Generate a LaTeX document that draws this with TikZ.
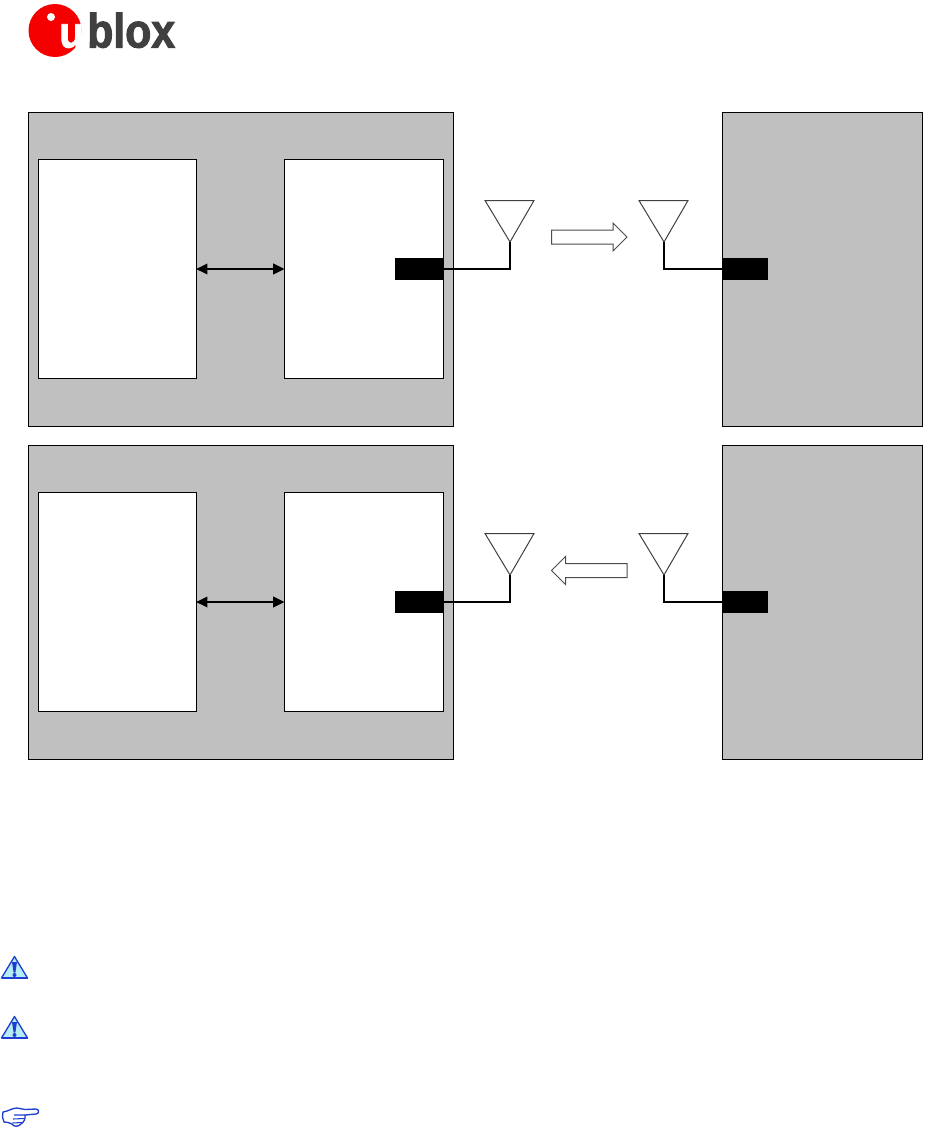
\documentclass[tikz,border=0pt]{standalone}
\usepackage{fontspec}
\setmainfont{Liberation Sans}
\newfontfamily\logofont[FakeBold=2.2]{Liberation Sans Bold}
\usetikzlibrary{arrows.meta,shapes.arrows,shapes.geometric}
\definecolor{panelgray}{HTML}{C0C0C0}
\definecolor{logored}{HTML}{F40000}
\definecolor{logodark}{HTML}{404040}
\definecolor{iconblue}{HTML}{1C3FD0}
\definecolor{iconfill}{HTML}{B8ECF4}
\tikzset{
  x=0.75pt,y=-0.75pt,
  box/.style={draw=black,line width=0.75pt,anchor=north west,inner sep=0pt,outer sep=0pt},
  panel/.style={box,fill=panelgray},
  inner/.style={box,fill=white,minimum width=119pt,minimum height=164.25pt},
  innerwide/.style={box,fill=white,minimum width=119.6pt,minimum height=164.25pt},
  port/.style={anchor=north west,fill=black,inner sep=0pt,outer sep=0pt,minimum height=16.5pt},
  feedline/.style={draw=black,line width=1.4pt},
  feedthin/.style={draw=black,line width=1.1pt},
  bus/.style={draw=black,line width=1.2pt,{Triangle[length=8.5pt,width=8pt]}-{Triangle[length=8.5pt,width=8pt]},shorten <=-0.4pt,shorten >=-0.4pt},
  aerial/.style={draw=black!75,line width=0.75pt,fill=white,line join=miter},
  flow/.style={draw=black!70,line width=0.75pt,fill=white,line join=miter},
  warn/.style={draw=iconblue,line width=1pt,fill=iconfill,line join=round},
}
\newcommand{\diagramrow}[2]{%
  % #1 = row prefix, #2 = vertical offset
  \node[panel,minimum width=318.75pt,minimum height=235.5pt] (#1left) at (28,112+#2) {};
  \node[inner] (#1host) at (38,159+#2) {};
  \node[innerwide] (#1module) at (284,159+#2) {};
  \node[port,minimum width=36pt] (#1porta) at (395,258+#2) {};
  \node[panel,minimum width=150pt,minimum height=235.5pt] (#1right) at (722,112+#2) {};
  \node[port,minimum width=34.5pt] (#1portb) at (722,258+#2) {};
  \draw[bus] (#1host.east |- 0,269+#2) -- (#1module.west |- 0,269+#2);
  \draw[aerial] (485,200.5+#2) -- (534,200.5+#2) -- (510,242+#2) -- cycle;
  \draw[aerial] (639,200.5+#2) -- (688,200.5+#2) -- (664,242+#2) -- cycle;
  \coordinate (#1tipa) at (510,242+#2);
  \coordinate (#1tipb) at (664,242+#2);
  \draw[feedline] (#1porta.east) -| (#1tipa);
  \draw[feedthin] (#1portb.west) -| (#1tipb);
}
\begin{document}
\begin{tikzpicture}
\useasboundingbox (0,0) rectangle (944,1128);

% logo
\fill[logored] (55,30.5) circle[radius=26.5];
\fill[white] (51,17) circle[radius=4];
\node[font=\logofont\fontsize{33}{33}\selectfont,text=white,inner sep=0pt,anchor=base west,xscale=0.92] (logou) at (59,47.5) {u};
\node[font=\logofont\fontsize{36}{36}\selectfont,text=logodark,inner sep=0pt,anchor=base west,xscale=0.89] (logotext) at (87,47.5) {blox};

\diagramrow{a}{0}
\diagramrow{b}{333}

% signal direction arrows
\draw[flow] (551.5,230) -- (613,230) -- (613,223) -- (627,237) -- (613,251) -- (613,244) -- (551.5,244) -- cycle;
\draw[flow] (627,563.5) -- (565.5,563.5) -- (565.5,556.5) -- (551.5,570.5) -- (565.5,584.5) -- (565.5,577.5) -- (627,577.5) -- cycle;

% warning icons
\foreach \yy in {0,60}{
  \draw[warn] (14.5,956.5+\yy) -- (27.5,978+\yy) -- (1.5,978+\yy) -- cycle;
  \draw[iconblue,line width=1.4pt] (1.5,978.3+\yy) -- (27.5,978.3+\yy);
  \fill[iconblue] (12,962+\yy) -- (17,962+\yy) -- (15.4,972.5+\yy) -- (13.6,972.5+\yy) -- cycle;
  \fill[iconblue] (14.5,975+\yy) circle[radius=2];
}

% pointing hand
\draw[iconblue,line width=1pt,fill=white,line join=round]
  (25,1109.5) -- (36,1109) .. controls (39.5,1109.5) and (39.5,1113.5) .. (36,1114)
  -- (25,1115) .. controls (25.5,1119) and (24,1122) .. (21,1124)
  .. controls (18,1127) and (14,1127) .. (12,1124)
  -- (8,1122.5) -- (4,1122) -- (2.5,1117) -- (3,1112)
  .. controls (8,1111.5) and (12,1108) .. (17,1108) -- (25,1109.5) -- cycle;
\draw[iconblue,line width=0.8pt] (14,1115) -- (25,1115) (13,1119) -- (24,1118.5) (12.5,1123) -- (22,1122.5);
\end{tikzpicture}
\end{document}
